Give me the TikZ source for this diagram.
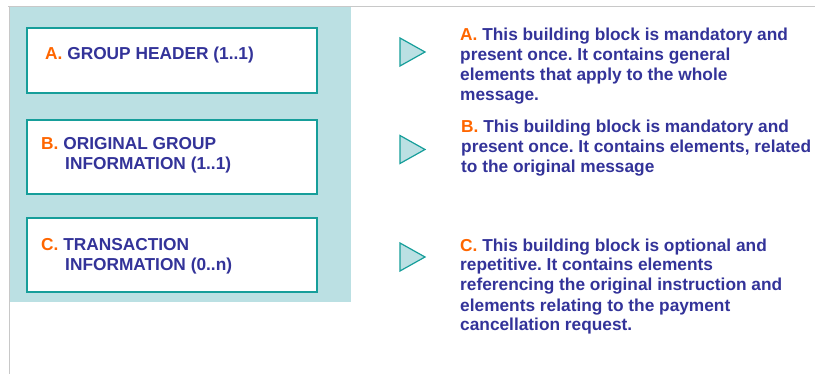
\documentclass[tikz,border=0pt]{standalone}
\usepackage{fontspec}
\setmainfont{Liberation Sans}
\frenchspacing
\usetikzlibrary{positioning}
\definecolor{bgteal}{HTML}{BBE0E3}
\definecolor{lineteal}{HTML}{169E9A}
\definecolor{txtblue}{HTML}{333399}
\definecolor{letterorange}{HTML}{FF6600}
\definecolor{framegray}{HTML}{C8C8C8}
\newcommand{\blockletter}[1]{\textcolor{letterorange}{#1}}

\begin{document}
\begin{tikzpicture}[
            x=1pt, y=-1pt,
            block/.style={draw=lineteal, line width=2pt, fill=white, minimum width=290pt, inner sep=0pt},
            blocktext/.style={anchor=base west, inner sep=0pt, align=left, text=txtblue,
                font=\fontsize{17.3}{20}\selectfont\bfseries},
            pointer/.style={draw=lineteal, fill=bgteal, line width=1.2pt, line join=miter},
        ]
            \def\titleindent{24pt};
            \useasboundingbox (0,0) rectangle (815,374);

            % Draw the frame and the shaded panel
            \draw[framegray, line width=1.3pt] (8,6.7) -- (815,6.7);
            \draw[framegray, line width=1.3pt] (9.6,6.7) -- (9.6,374);
            \fill[bgteal] (10.3,7.4) rectangle (351,302);

            % Draw the three building blocks
            \foreach \name / \y / \h in {A/61/65, B/156.7/74, C/254.7/74}
                \node[block, minimum height=\h pt] (box-\name) at (172,\y) {};

            % (base of a multi-line node = baseline of its last line)
            \node[blocktext] (title-A) at (45,59.5) {\blockletter{A.} GROUP HEADER (1..1)};
            \node[blocktext] (title-B) at (41,169.5) {\blockletter{B.} ORIGINAL GROUP\\
                \hspace*{\titleindent}INFORMATION (1..1)};
            \node[blocktext] (title-C) at (41,270.5) {\blockletter{C.} TRANSACTION\\
                \hspace*{\titleindent}INFORMATION (0..n)};

            % Draw the pointers
            \foreach \name / \y in {A/52, B/149.5, C/257}
                \draw[pointer] (400,\y-14) -- (425,\y) -- (400,\y+14) -- cycle;

            % Draw the descriptions
            \node[blocktext] (desc-A) at (460,101) {\blockletter{A.} This building block is mandatory and\\
                present once. It contains general\\
                elements that apply to the whole\\
                message.};
            \node[blocktext] (desc-B) at (461,172.5) {\blockletter{B.} This building block is mandatory and\\
                present once. It contains elements, related\\
                to the original message};
            \node[blocktext] (desc-C) at (460,331) {\blockletter{C.} This building block is optional and\\
                repetitive. It contains elements\\
                referencing the original instruction and\\
                elements relating to the payment\\
                cancellation request.};
        \end{tikzpicture}
\end{document}
